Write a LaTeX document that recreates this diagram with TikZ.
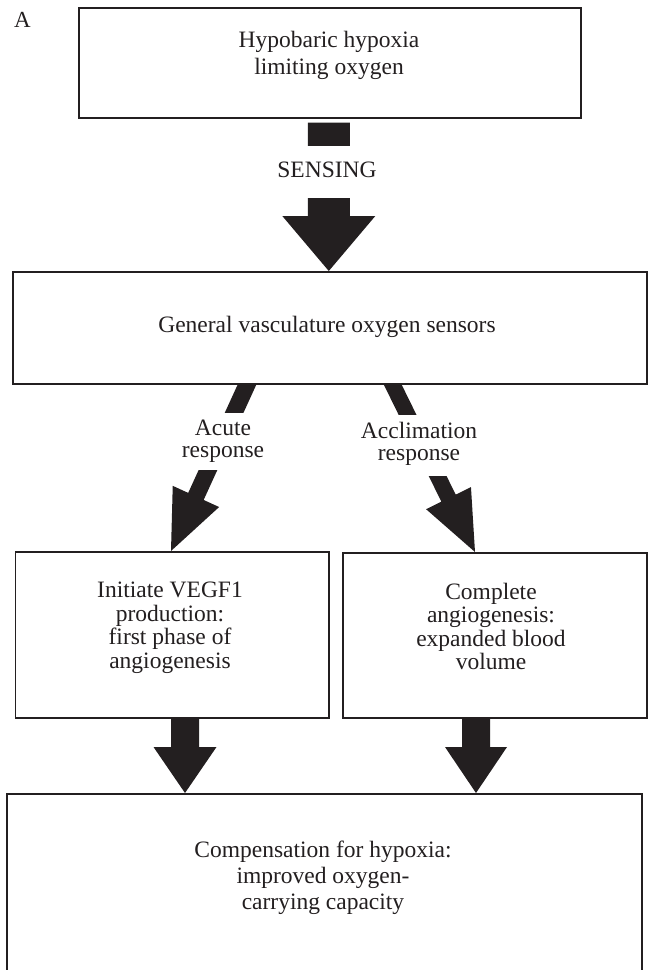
\documentclass[tikz,border=0pt]{standalone}
\usepackage{fontspec}
\setmainfont{Liberation Serif}
\usetikzlibrary{calc}
\definecolor{ink}{HTML}{231F20}
\pgfdeclarelayer{arrowlayer}
\pgfsetlayers{arrowlayer,main}

% Block arrow from #1 to tip #2: half shaft width #3, half head width #4, head length #5
\newcommand\drawfatarrow[5]{%
  \coordinate (fa-base) at ($(#2)!#5!(#1)$);
  \fill[arrowfill]
    ($(#1)!#3!90:(#2)$) -- ($(fa-base)!#3!90:(#2)$) -- ($(fa-base)!#4!90:(#2)$)
    -- (#2) -- ($(fa-base)!#4!-90:(#2)$) -- ($(fa-base)!#3!-90:(#2)$)
    -- ($(#1)!#3!-90:(#2)$) -- cycle;
}

\begin{document}
\begin{tikzpicture}[x=1pt,y=-1pt,
  box/.style={draw=ink, line width=1.6pt, fill=white, inner sep=0pt, anchor=north west},
  txt/.style={font=\fontsize{23.5}{26}\selectfont, align=center, inner sep=0pt, text=ink},
  lbl/.style={font=\fontsize{23.5}{22}\selectfont, align=center, fill=white,
              inner xsep=2pt, inner ysep=0pt, text=ink},
  arrowfill/.style={fill=ink}]

\useasboundingbox (0,0) rectangle (648,970);
\clip (0,0) rectangle (648,970);

% panel letter
\node[anchor=base west, inner sep=0pt, font=\fontsize{23}{23}\selectfont, text=ink] (panel) at (14,27) {A};

% boxes
\node[box, minimum width=502pt, minimum height=110pt] (hyp) at (78,7) {};
\node[txt, font=\fontsize{23.5}{27}\selectfont] (hyptxt) at (329,55.5) {Hypobaric hypoxia\\limiting oxygen};

\node[box, minimum width=634pt, minimum height=112pt] (gen) at (12,271) {};
\node[txt] (gentxt) at (327,326.5) {General vasculature oxygen sensors};

\node[box, minimum width=313.5pt, minimum height=166pt] (vegf) at (14.5,551) {};
\node[txt, font=\fontsize{23.5}{23.5}\selectfont] (vegftxt) at (170,627.5)
  {Initiate VEGF1\\production:\\first phase of\\angiogenesis};

\node[box, minimum width=304pt, minimum height=165pt] (angio) at (342,552) {};
\node[txt, font=\fontsize{23.5}{23.5}\selectfont] (angiotxt) at (491,626.5)
  {Complete\\angiogenesis:\\expanded blood\\volume};

\node[box, minimum width=635pt, minimum height=220pt] (comp) at (6,793) {};
\node[txt] (comptxt) at (323,878)
  {Compensation for hypoxia:\\improved oxygen-\\carrying capacity};

% arrow end points on the box edges
\coordinate (sense-s) at ($(hyp.south)+(-1,4)$);
\coordinate (sense-t) at (sense-s |- gen.north);
\coordinate (acute-p) at (247,0 |- gen.south);
\coordinate (acute-t) at (171,0 |- vegf.north);
\coordinate (acute-s) at ($(acute-t)!1.08!(acute-p)$);
\coordinate (accl-p) at (392.7,0 |- gen.south);
\coordinate (accl-t) at (475,0 |- angio.north);
\coordinate (accl-s) at ($(accl-t)!1.08!(accl-p)$);
\coordinate (left-s) at (185,0 |- vegf.south);
\coordinate (left-t) at (185,0 |- comp.north);
\coordinate (right-s) at (476,0 |- angio.south);
\coordinate (right-t) at (476,0 |- comp.north);

\begin{pgfonlayer}{arrowlayer}
  \drawfatarrow{sense-s}{sense-t}{21pt}{46.5pt}{55pt}
  \drawfatarrow{acute-s}{acute-t}{8.5pt}{25.5pt}{60pt}
  \drawfatarrow{accl-s}{accl-t}{8pt}{25pt}{60pt}
  \drawfatarrow{left-s}{left-t}{14pt}{31.5pt}{46pt}
  \drawfatarrow{right-s}{right-t}{14pt}{31pt}{46pt}
\end{pgfonlayer}

% labels interrupting the arrows
\node[lbl, minimum height=52pt, text depth=4pt] (sensing) at (327,172) {SENSING};
\node[lbl, minimum height=57pt] (acute) at (223,441.5) {Acute\\response};
\node[lbl, minimum height=61pt, text depth=9pt] (accl) at (419,445.5) {Acclimation\\response};
\end{tikzpicture}
\end{document}
